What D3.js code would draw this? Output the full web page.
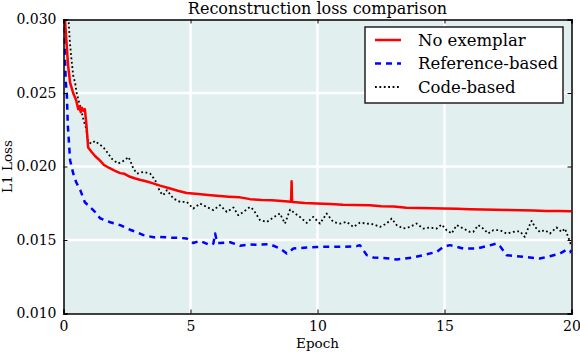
<!DOCTYPE html>
<html><head><meta charset="utf-8">
<script src="https://cdn.jsdelivr.net/npm/d3@7"></script>
<style>body{margin:0;background:#fff;} text{font-family:"DejaVu Serif",serif;}</style>
</head><body>
<svg id="c" width="580" height="352"></svg>
<script>
const title = "Reconstruction loss comparison";
const xLabel = "Epoch";
const yLabel = "L1 Loss";
const xTicks = [0, 5, 10, 15, 20];
const yTicks = [0.010, 0.015, 0.020, 0.025, 0.030];
const seriesNames = ["No exemplar", "Reference-based", "Code-based"];

const redEpoch = [0,0.05,0.1,0.18,0.26,0.38,0.5,0.58,0.62,0.68,0.72,0.78,0.84,0.9,0.97,1.1,1.25,1.44,1.6,1.8,2.03,2.23,2.4,2.62,2.8,3.0,3.25,3.53,3.8,4.2,4.5,4.85,5.2,5.5,5.8,6.16,6.5,6.95,7.35,7.8,8.2,8.6,8.96,8.98,9.0,9.03,9.5,9.97,10.5,11.0,11.5,12.07,12.5,13.0,13.5,14.0,14.5,14.95,15.5,16.0,16.5,17.0,17.5,18.0,18.5,19.0,19.5,20.0];
const redLoss = [0.0318,0.0302,0.0289,0.0269,0.0257,0.0250,0.0245,0.0239,0.0241,0.0237,0.0240,0.0238,0.0239,0.0229,0.0213,0.0210,0.0207,0.0204,0.0201,0.0199,0.0197,0.01955,0.0195,0.0193,0.0192,0.0191,0.0190,0.01885,0.0187,0.0185,0.01835,0.0182,0.01815,0.0181,0.01805,0.0180,0.01795,0.0179,0.01778,0.01772,0.0177,0.01765,0.0176,0.0190,0.0176,0.01758,0.01752,0.01748,0.01745,0.0174,0.01738,0.01737,0.0173,0.01728,0.0172,0.01718,0.01716,0.01714,0.01712,0.0171,0.01708,0.01706,0.01704,0.01702,0.0170,0.01698,0.01697,0.01696];

const blueEpoch = [0,0.055,0.09,0.13,0.17,0.26,0.38,0.5,0.66,0.84,1.05,1.25,1.44,1.84,2.23,2.62,2.89,3.15,3.54,3.8,4.2,4.59,4.85,4.98,5.11,5.38,5.77,5.9,5.97,6.05,6.16,6.56,6.95,7.34,7.61,8.13,8.53,8.79,9.05,9.58,9.97,10.49,11.01,11.54,11.67,11.8,11.94,12.2,12.85,13.12,13.77,14.16,14.69,14.95,15.21,15.74,16.26,16.66,17.05,17.2,17.44,17.84,18.36,18.75,19.15,19.55,19.78,19.94,20.0];
const blueLoss = [0.0310,0.02757,0.02573,0.02499,0.02281,0.02043,0.01954,0.01893,0.01839,0.01757,0.01723,0.01689,0.01648,0.01621,0.01601,0.0157,0.01553,0.01533,0.01519,0.01521,0.01516,0.01514,0.0151,0.01499,0.0148,0.01494,0.01465,0.01476,0.01544,0.0148,0.0148,0.01485,0.01461,0.01469,0.01468,0.01471,0.01442,0.01408,0.01442,0.01449,0.01453,0.01454,0.01454,0.01458,0.01465,0.01431,0.01397,0.01381,0.01374,0.01367,0.01381,0.01397,0.01419,0.01453,0.01465,0.01442,0.01442,0.01458,0.01476,0.01455,0.01397,0.0139,0.01381,0.01374,0.0139,0.01408,0.01431,0.01417,0.01431];

const blackEpoch = [0.15,0.2,0.25,0.31,0.38,0.46,0.51,0.59,0.7,0.79,0.9,0.94,0.97,1.1,1.24,1.37,1.56,1.76,1.89,2.15,2.42,2.55,2.62,2.75,2.89,3.15,3.41,3.61,3.8,3.93,4.07,4.33,4.59,4.85,5.11,5.38,5.64,5.9,6.16,6.43,6.69,6.88,7.08,7.34,7.47,7.74,8.0,8.26,8.52,8.72,8.92,9.12,9.31,9.58,9.83,10.1,10.36,10.62,10.89,11.15,11.41,11.67,11.94,12.2,12.46,12.72,12.92,13.12,13.38,13.64,13.9,14.16,14.43,14.69,14.89,15.08,15.28,15.48,15.74,16.0,16.13,16.33,16.52,16.72,16.92,17.18,17.44,17.7,17.97,18.16,18.29,18.43,18.56,18.75,18.95,19.15,19.41,19.61,19.74,19.87,19.96,20.0];
const blackLoss = [0.0310,0.02995,0.02848,0.02735,0.02621,0.02567,0.02507,0.02451,0.02383,0.02315,0.02254,0.02201,0.02167,0.02156,0.02174,0.02156,0.02133,0.02088,0.02054,0.0202,0.02043,0.02065,0.02043,0.01986,0.01952,0.01963,0.01952,0.01907,0.01827,0.01805,0.01839,0.01782,0.01759,0.01759,0.01714,0.01748,0.01725,0.01703,0.01737,0.01691,0.01721,0.01669,0.01691,0.01725,0.01707,0.01635,0.01623,0.01653,0.0168,0.01612,0.01707,0.0168,0.01657,0.01616,0.01657,0.01612,0.0168,0.01623,0.01612,0.01623,0.01589,0.01618,0.01612,0.01607,0.01589,0.01612,0.01646,0.01601,0.01578,0.01589,0.01612,0.01578,0.01585,0.01578,0.01605,0.01567,0.01544,0.01601,0.01578,0.01555,0.01555,0.01601,0.01578,0.01544,0.01567,0.01567,0.01544,0.01555,0.0156,0.01521,0.01578,0.0163,0.01589,0.01555,0.01567,0.01544,0.01585,0.01555,0.01578,0.01521,0.01476,0.01465];

const svg = d3.select("#c");
const L = 63.5, R = 571.5, T = 19.5, B = 313.5;
const x = d3.scaleLinear().domain([0, 20]).range([L, R]);
const y = d3.scaleLinear().domain([0.010, 0.030]).range([B, T]);

svg.append("rect").attr("x", L).attr("y", T).attr("width", R - L).attr("height", B - T).attr("fill", "#e2efef");

const grid = svg.append("g");
grid.selectAll("line.gx").data(xTicks.slice(1, -1)).join("line")
  .attr("x1", d => x(d)).attr("x2", d => x(d)).attr("y1", T).attr("y2", B)
  .attr("stroke", "#fff").attr("stroke-width", 2.5);
grid.selectAll("line.gy").data(yTicks.slice(1, -1)).join("line")
  .attr("y1", d => y(d)).attr("y2", d => y(d)).attr("x1", L).attr("x2", R)
  .attr("stroke", "#fff").attr("stroke-width", 2.5);

svg.append("clipPath").attr("id", "clip").append("rect")
  .attr("x", L).attr("y", T).attr("width", R - L).attr("height", B - T);

const line = d3.line().x(d => x(d[0])).y(d => y(d[1]));
const plot = svg.append("g").attr("clip-path", "url(#clip)");
const series = [
  { name: seriesNames[0], pts: d3.zip(redEpoch, redLoss), color: "#ff0000", w: 2.5, dash: null },
  { name: seriesNames[1], pts: d3.zip(blueEpoch, blueLoss), color: "#0000ff", w: 2.5, dash: "6,5" },
  { name: seriesNames[2], pts: d3.zip(blackEpoch, blackLoss), color: "#000000", w: 1.8, dash: "1.8,2.6" }
];
[series[2], series[1], series[0]].forEach(s => {
  plot.append("path").attr("d", line(s.pts)).attr("fill", "none")
    .attr("stroke", s.color).attr("stroke-width", s.w)
    .attr("stroke-dasharray", s.dash).attr("stroke-linejoin", "round");
});

const fmt = d3.format(".3f");
const axB = svg.append("g").attr("transform", `translate(0,${B})`)
  .call(d3.axisBottom(x).tickValues(xTicks).tickSize(-4).tickPadding(8).tickFormat(d3.format("d")));
const axT = svg.append("g").attr("transform", `translate(0,${T})`)
  .call(d3.axisTop(x).tickValues(xTicks).tickSize(-4).tickFormat(""));
const axL = svg.append("g").attr("transform", `translate(${L},0)`)
  .call(d3.axisLeft(y).tickValues(yTicks).tickSize(-4).tickPadding(7).tickFormat(fmt));
const axR = svg.append("g").attr("transform", `translate(${R},0)`)
  .call(d3.axisRight(y).tickValues(yTicks).tickSize(-4).tickFormat(""));
[axB, axT, axL, axR].forEach(a => {
  a.select(".domain").attr("stroke", "#000").attr("stroke-width", 1.5);
  a.selectAll(".tick line").attr("stroke", "#000").attr("stroke-width", 1);
  a.selectAll("text").attr("font-family", "DejaVu Serif").attr("font-size", 14).attr("fill", "#000");
});

svg.append("text").attr("x", (L + R) / 2).attr("y", 14).attr("text-anchor", "middle")
  .attr("font-size", 16).text(title);
svg.append("text").attr("x", (L + R) / 2).attr("y", 348).attr("text-anchor", "middle")
  .attr("font-size", 13.5).text(xLabel);
svg.append("text").attr("transform", `translate(12,${(T + B) / 2}) rotate(-90)`)
  .attr("text-anchor", "middle").attr("font-size", 13.5).text(yLabel);

const lg = svg.append("g");
lg.append("rect").attr("x", 365).attr("y", 27).attr("width", 198).attr("height", 76)
  .attr("fill", "#fff").attr("stroke", "#222").attr("stroke-width", 1.5);
series.forEach((s, i) => {
  const yy = 40 + i * 23.5;
  lg.append("line").attr("x1", 375).attr("x2", 401).attr("y1", yy).attr("y2", yy)
    .attr("stroke", s.color).attr("stroke-width", s.w).attr("stroke-dasharray", s.dash);
  lg.append("text").attr("x", 418).attr("y", yy + 5.5).attr("font-size", 16.5).text(s.name);
});
</script>
</body></html>
